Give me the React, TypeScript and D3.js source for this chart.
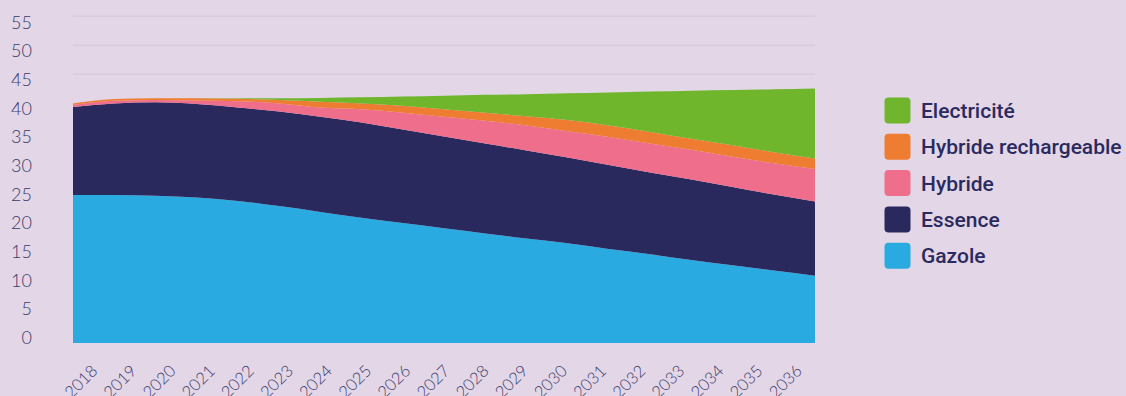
import React from "react";
import * as d3 from "d3";

const years = [2018, 2019, 2020, 2021, 2022, 2023, 2024, 2025, 2026, 2027, 2028, 2029, 2030, 2031, 2032, 2033, 2034, 2035, 2036];
const gazole = [25.5, 25.5, 25.4, 25.1, 24.5, 23.6, 22.6, 21.6, 20.7, 19.8, 18.9, 18.0, 17.2, 16.2, 15.3, 14.3, 13.4, 12.5, 11.6];
const essence = [15.2, 15.8, 16.1, 16.1, 16.1, 16.3, 16.4, 16.4, 16.1, 15.8, 15.5, 15.2, 14.8, 14.5, 14.1, 13.9, 13.5, 13.1, 12.8];
const hybride = [0.35, 0.45, 0.4, 0.6, 1.1, 1.4, 1.6, 2.3, 2.9, 3.4, 3.9, 4.3, 4.5, 4.8, 5.0, 5.1, 5.2, 5.4, 5.6];
const hybrideRech = [0.25, 0.3, 0.3, 0.4, 0.4, 0.6, 1.0, 1.0, 1.2, 1.3, 1.4, 1.6, 1.95, 2.0, 2.0, 1.9, 2.0, 1.9, 1.8];
const electricite = [0, 0, 0, 0, 0.1, 0.3, 0.65, 1.05, 1.6, 2.35, 3.1, 3.8, 4.6, 5.7, 6.95, 8.3, 9.5, 10.85, 12.1];
const yTicks = [0, 5, 10, 15, 20, 25, 30, 35, 40, 45, 50, 55];

const seriesKeys = ["gazole", "essence", "hybride", "hybrideRech", "electricite"];
const seriesLabels: Record<string, string> = {
  electricite: "Electricité",
  hybrideRech: "Hybride rechargeable",
  hybride: "Hybride",
  essence: "Essence",
  gazole: "Gazole",
};
const colors: Record<string, string> = {
  electricite: "#6fb62c",
  hybrideRech: "#ee7d32",
  hybride: "#ee6e8c",
  essence: "#29295d",
  gazole: "#29abe2",
};
const legendOrder = ["electricite", "hybrideRech", "hybride", "essence", "gazole"];

const W = 1126;
const H = 396;
const BG = "#e2d6e7";
const TEXT = "#3b3a6a";

export default function App() {
  const table = years.map((yr, i) => ({
    year: yr,
    gazole: gazole[i],
    essence: essence[i],
    hybride: hybride[i],
    hybrideRech: hybrideRech[i],
    electricite: electricite[i],
  }));
  const stacked = d3.stack<any>().keys(seriesKeys)(table);

  const x = d3.scaleLinear().domain([2018, 2036]).range([73, 815]);
  const y = d3.scaleLinear().domain([0, 55]).range([343, 24]);
  const yLabel = d3.scaleLinear().domain([0, 55]).range([337.7, 22.3]);
  const yGrid = d3.scaleLinear().domain([0, 55]).range([335.3, 16.3]);
  const xLabel = d3.scalePoint<number>().domain(years).range([98.5, 803]);

  const area = d3
    .area<any>()
    .x((d: any) => x(d.data.year))
    .y0((d: any) => y(d[0]))
    .y1((d: any) => y(d[1]))
    .curve(d3.curveMonotoneX);

  return (
    <div style={{ position: "fixed", left: 0, top: 0, width: W, height: H }}>
      <svg width={W} height={H} style={{ display: "block" }}>
        <rect x={0} y={0} width={W} height={H} fill={BG} />
        {yTicks.filter((t) => t > 0).map((t) => (
          <line key={"g" + t} x1={x(2018)} x2={x(2036)} y1={yGrid(t)} y2={yGrid(t)} stroke="#d7cbdc" strokeWidth={1.5} />
        ))}
        {stacked.map((s: any) => (
          <path key={s.key} d={area(s) || ""} fill={colors[s.key]} />
        ))}
        {yTicks.map((t) => (
          <text
            key={"yl" + t}
            x={32}
            y={yLabel(t)}
            dy="0.35em"
            textAnchor="end"
            fontFamily="Lato"
            fontWeight={300}
            fontSize={18}
            fill={TEXT}
          >
            {t}
          </text>
        ))}
        {years.map((yr) => (
          <text
            key={"xl" + yr}
            transform={`translate(${xLabel(yr) as number},${372}) rotate(-45)`}
            textAnchor="end"
            fontFamily="Lato"
            fontWeight={300}
            fontSize={16.5}
            fill={TEXT}
          >
            {yr}
          </text>
        ))}
        {legendOrder.map((k, i) => {
          const cy = 110.5 + i * 36.3;
          return (
            <g key={"lg" + k}>
              <rect x={884.5} y={cy - 13} width={26} height={26} rx={4} fill={colors[k]} />
              <text
                x={921}
                y={cy}
                dy="0.36em"
                fontFamily="Roboto"
                fontWeight={500}
                fontSize={21}
                fill="#2b2a5e"
              >
                {seriesLabels[k]}
              </text>
            </g>
          );
        })}
      </svg>
    </div>
  );
}
